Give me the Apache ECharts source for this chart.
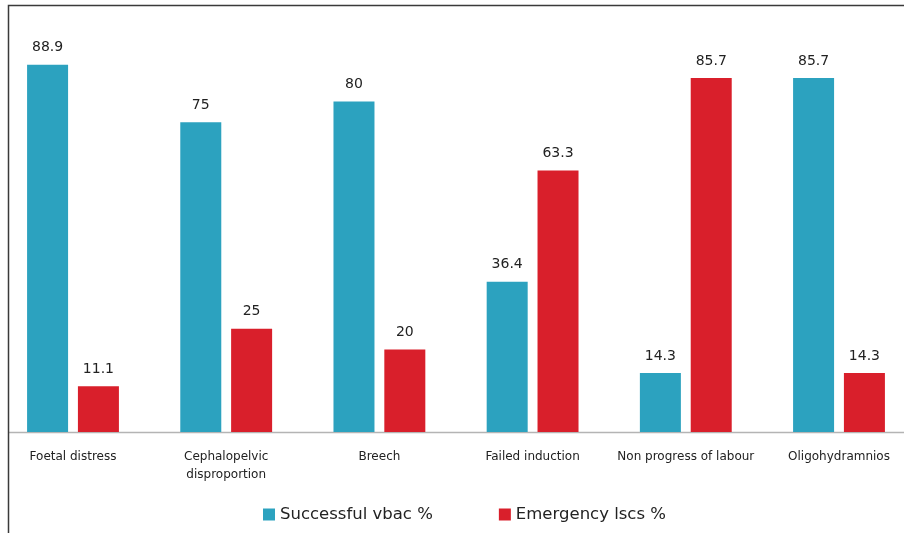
<!DOCTYPE html>
<html>
<head>
<meta charset="utf-8">
<script src="https://cdn.jsdelivr.net/npm/echarts@6/dist/echarts.min.js"></script>
<style>
html,body{margin:0;padding:0;background:#fff;overflow:hidden;width:904px;height:533px;}
#wrap{position:relative;width:904px;height:533px;overflow:hidden;}
#c{position:absolute;left:-4px;top:0;width:920px;height:533px;}
</style>
</head>
<body>
<div id="wrap"><div id="c"></div></div>
<script>
var categories = ['Foetal distress', 'Cephalopelvic\ndisproportion', 'Breech', 'Failed induction', 'Non progress of labour', 'Oligohydramnios'];
var successfulVbac = [88.9, 75, 80, 36.4, 14.3, 85.7];
var emergencyLscs = [11.1, 25, 20, 63.3, 85.7, 14.3];
var seriesNames = ['Successful vbac %', 'Emergency lscs %'];

var OFF = 4; // canvas is shifted 4px left of the page
var chart = echarts.init(document.getElementById('c'));
var labelStyle = {show: true, position: 'top', distance: 10, fontFamily: 'DejaVu Sans', fontSize: 14, color: '#222'};
chart.setOption({
  animation: false,
  textStyle: {fontFamily: 'DejaVu Sans'},
  grid: {left: 0.4, right: 0.4, top: 19, bottom: 101},
  legend: {
    left: 258 + OFF, top: 501, itemWidth: 12, itemHeight: 12, itemGap: 66,
    icon: 'rect',
    textStyle: {fontFamily: 'DejaVu Sans', fontSize: 16.5, color: '#222'},
    data: seriesNames
  },
  xAxis: {
    type: 'category', data: categories,
    axisLine: {show: false}, axisTick: {show: false},
    axisLabel: {interval: 0, margin: 16, fontFamily: 'DejaVu Sans', fontSize: 12, color: '#222', lineHeight: 18}
  },
  yAxis: {type: 'value', min: 0, max: 100, show: false, splitLine: {show: false}},
  series: [
    {name: seriesNames[0], type: 'bar', data: successfulVbac, barWidth: 41, barGap: '24%', itemStyle: {color: '#2CA2BF'}, label: labelStyle},
    {name: seriesNames[1], type: 'bar', data: emergencyLscs, barWidth: 41, barGap: '24%', itemStyle: {color: '#D91F2B'}, label: labelStyle}
  ]
});
var y0 = chart.convertToPixel({yAxisIndex: 0}, 0);
chart.setOption({
  graphic: [
    {type: 'line', shape: {x1: 8 + OFF, y1: y0 + 0.5, x2: 904 + OFF, y2: y0 + 0.5}, style: {stroke: '#b4b4b4', lineWidth: 1.5}, silent: true},
    {type: 'polyline', shape: {points: [[8.5 + OFF, 533], [8.5 + OFF, 5.5], [904 + OFF, 5.5]]}, style: {stroke: '#3a3a3a', lineWidth: 1.5, fill: null}, silent: true}
  ]
});
</script>
</body>
</html>
